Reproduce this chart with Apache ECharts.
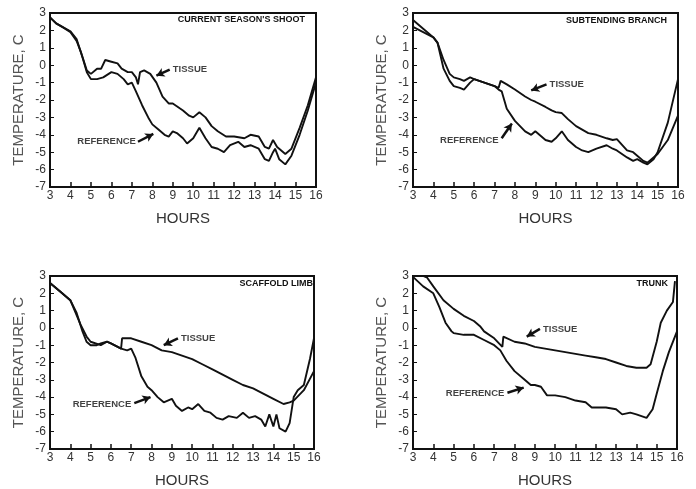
<!DOCTYPE html>
<html><head><meta charset="utf-8">
<script src="https://cdn.jsdelivr.net/npm/echarts@6/dist/echarts.min.js"></script>
<style>html,body{margin:0;padding:0;background:#fff}#c{width:696px;height:489px}</style>
</head><body><div id="c"></div>
<script>
// ---- data (hours, temperature C) ----
const panelTitles = ["CURRENT SEASON'S SHOOT", "SUBTENDING BRANCH", "SCAFFOLD LIMB", "TRUNK"];
const xTicks = [3,4,5,6,7,8,9,10,11,12,13,14,15,16];
const yTicks = [-7,-6,-5,-4,-3,-2,-1,0,1,2,3];

const shootReference = [[3,2.75],[3.3,2.4],[3.6,2.2],[4,1.95],[4.3,1.5],[4.6,0.4],[4.8,-0.4],[5,-0.8],[5.3,-0.8],[5.6,-0.7],[6,-0.4],[6.3,-0.5],[6.6,-0.8],[6.8,-1.1],[7,-1.0],[7.2,-1.5],[7.5,-2.3],[7.8,-3.0],[8,-3.4],[8.3,-3.7],[8.6,-4.0],[8.8,-4.1],[9,-3.8],[9.2,-3.9],[9.5,-4.2],[9.7,-4.5],[10,-4.2],[10.3,-3.6],[10.6,-4.2],[10.9,-4.7],[11.2,-4.8],[11.5,-5.0],[11.8,-4.6],[12.2,-4.4],[12.5,-4.7],[12.8,-4.6],[13.2,-4.8],[13.5,-5.4],[13.7,-5.5],[13.9,-5.0],[14.0,-4.8],[14.2,-5.4],[14.5,-5.7],[14.8,-5.2],[15.2,-4.0],[15.6,-2.6],[16,-1.0]];
const shootTissue = [[3,2.75],[3.3,2.4],[3.6,2.2],[4,1.9],[4.3,1.4],[4.5,0.8],[4.8,-0.3],[5,-0.5],[5.3,-0.2],[5.5,-0.2],[5.7,0.3],[6,0.2],[6.3,0.1],[6.5,-0.2],[6.8,-0.4],[7,-0.4],[7.2,-0.7],[7.3,-1.1],[7.4,-0.4],[7.6,-0.3],[7.9,-0.5],[8.2,-1.0],[8.5,-1.8],[8.8,-2.2],[9,-2.2],[9.5,-2.6],[9.8,-2.9],[10,-3.0],[10.3,-2.7],[10.6,-3.0],[10.9,-3.5],[11.2,-3.8],[11.6,-4.1],[12,-4.1],[12.5,-4.2],[12.8,-4.0],[13.2,-4.1],[13.5,-4.7],[13.7,-4.8],[13.9,-4.3],[14.1,-4.7],[14.5,-5.1],[14.8,-4.8],[15.2,-3.6],[15.6,-2.3],[16,-0.7]];

const branchReference = [[3,2.6],[3.5,2.1],[4,1.6],[4.2,1.3],[4.5,-0.2],[4.8,-0.9],[5,-1.2],[5.3,-1.3],[5.5,-1.4],[5.8,-1.0],[6,-0.8],[6.5,-1.0],[7,-1.2],[7.2,-1.4],[7.35,-1.5],[7.6,-2.5],[8,-3.2],[8.5,-3.8],[8.8,-4.0],[9,-3.8],[9.5,-4.3],[9.8,-4.4],[10,-4.2],[10.3,-3.8],[10.6,-4.3],[11,-4.7],[11.3,-4.9],[11.6,-5.0],[12,-4.8],[12.5,-4.6],[12.8,-4.8],[13,-4.9],[13.5,-5.3],[13.8,-5.5],[14,-5.4],[14.3,-5.6],[14.5,-5.7],[14.8,-5.4],[15,-5.0],[15.5,-3.3],[16,-0.8]];
const branchTissue = [[3,2.2],[3.5,1.9],[4,1.6],[4.2,1.3],[4.5,0.3],[4.8,-0.5],[5,-0.7],[5.3,-0.8],[5.5,-0.9],[5.8,-0.7],[6,-0.8],[6.5,-1.0],[7,-1.2],[7.2,-1.3],[7.3,-0.9],[7.6,-1.1],[8,-1.4],[8.5,-1.8],[8.8,-2.0],[9,-2.1],[9.5,-2.4],[9.8,-2.6],[10,-2.7],[10.3,-2.75],[10.6,-3.1],[11,-3.5],[11.3,-3.7],[11.6,-3.9],[12,-4.0],[12.5,-4.2],[12.8,-4.3],[13,-4.25],[13.5,-4.9],[13.8,-5.0],[14,-5.2],[14.3,-5.5],[14.5,-5.6],[14.8,-5.3],[15,-5.1],[15.5,-4.3],[16,-2.9]];

const limbReference = [[3,2.6],[3.5,2.1],[4,1.6],[4.3,0.9],[4.6,-0.2],[4.8,-0.8],[5,-1.0],[5.3,-1.0],[5.5,-0.9],[5.8,-0.8],[6,-0.9],[6.5,-1.2],[6.8,-1.3],[7,-1.2],[7.2,-1.7],[7.5,-2.8],[7.8,-3.4],[8,-3.6],[8.3,-4.0],[8.6,-4.3],[9,-4.1],[9.2,-4.5],[9.5,-4.8],[9.8,-4.6],[10,-4.7],[10.3,-4.4],[10.6,-4.8],[10.9,-4.9],[11.2,-5.2],[11.5,-5.3],[11.8,-5.1],[12.2,-5.2],[12.5,-4.9],[12.8,-5.2],[13.1,-5.1],[13.4,-5.3],[13.6,-5.7],[13.8,-5.0],[14,-5.7],[14.15,-5.0],[14.3,-5.8],[14.6,-6.0],[14.8,-5.5],[15,-4.0],[15.2,-3.6],[15.5,-3.3],[15.8,-1.8],[16,-0.6]];
const limbTissue = [[3,2.6],[3.5,2.1],[4,1.6],[4.5,0.2],[4.8,-0.5],[5,-0.8],[5.5,-1.0],[5.8,-0.8],[6,-0.9],[6.5,-1.2],[6.55,-0.6],[7,-0.6],[7.5,-0.8],[8,-1.0],[8.5,-1.3],[9,-1.4],[9.5,-1.6],[10,-1.8],[10.5,-2.1],[11,-2.4],[11.5,-2.7],[12,-3.0],[12.5,-3.3],[13,-3.5],[13.5,-3.8],[14,-4.1],[14.5,-4.4],[14.8,-4.3],[15,-4.2],[15.5,-3.6],[16,-2.5]];

const trunkReference = [[3,2.95],[3.5,2.4],[4,2.0],[4.3,1.2],[4.6,0.3],[4.9,-0.2],[5,-0.3],[5.5,-0.4],[6,-0.4],[6.5,-0.7],[7,-1.0],[7.3,-1.3],[7.6,-1.9],[8,-2.5],[8.5,-3.0],[8.8,-3.3],[9,-3.3],[9.3,-3.4],[9.6,-3.9],[10,-3.9],[10.5,-4.0],[11,-4.2],[11.5,-4.3],[11.8,-4.6],[12.5,-4.6],[13,-4.7],[13.3,-5.0],[13.7,-4.9],[14,-5.0],[14.5,-5.2],[14.8,-4.7],[15,-3.8],[15.3,-2.5],[15.6,-1.4],[16,-0.2]];
const trunkTissue = [[3,3.0],[3.5,3.0],[3.7,2.9],[4,2.4],[4.5,1.6],[5,1.1],[5.5,0.7],[6,0.4],[6.3,0.1],[6.5,-0.2],[7,-0.6],[7.4,-1.1],[7.45,-0.5],[8,-0.8],[8.5,-0.9],[9,-1.1],[9.5,-1.2],[10,-1.3],[10.5,-1.4],[11,-1.5],[11.5,-1.6],[12,-1.7],[12.5,-1.8],[13,-2.0],[13.5,-2.2],[14,-2.3],[14.5,-2.3],[14.7,-2.1],[15,-0.8],[15.2,0.3],[15.5,1.0],[15.8,1.5],[15.9,2.7]];

const referenceSeries = [shootReference, branchReference, limbReference, trunkReference];
const tissueSeries = [shootTissue, branchTissue, limbTissue, trunkTissue];

// annotation anchors in data units
const tissueLabelAt = [[9.0,-0.22],[9.7,-1.1],[9.45,-0.6],[9.4,-0.06]];
const tissueArrows = [[[8.85,-0.25],[8.2,-0.6]],[[9.55,-1.1],[8.8,-1.45]],[[9.3,-0.6],[8.6,-1.0]],[[9.25,-0.06],[8.6,-0.5]]];
const referenceLabelAt = [[7.2,-4.4],[7.2,-4.3],[7.0,-4.4],[7.5,-3.8]];
const referenceArrows = [[[7.3,-4.4],[8.05,-3.95]],[[7.35,-4.2],[7.85,-3.35]],[[7.15,-4.35],[7.95,-4.0]],[[7.65,-3.75],[8.45,-3.45]]];

// ---- layout ----
const grids = [
  {left:50, top:13, width:266, height:174},
  {left:413, top:13, width:265, height:174},
  {left:50, top:276, width:264, height:174},
  {left:413, top:276, width:264, height:175}
];
const titleRight = [391, 29, 383, 28];
const titleTop = [15, 16, 279, 279];

const fontFam = "'Liberation Sans', Arial, sans-serif";
const option = {
  animation:false,
  backgroundColor:'#fff',
  title: panelTitles.map((t,i)=>({text:t, right:titleRight[i], top:titleTop[i], padding:0,
    textStyle:{fontSize:9, fontWeight:'bold', fontFamily:fontFam, color:'#111'}})),
  grid: grids.map(g=>Object.assign({show:true, borderColor:'#111', borderWidth:2, backgroundColor:'transparent'}, g)),
  xAxis: grids.map((g,i)=>({type:'value', gridIndex:i, min:3, max:16, interval:1,
    name:'HOURS', nameLocation:'middle', nameGap:24,
    nameTextStyle:{fontSize:15, fontFamily:fontFam, color:'#333'},
    axisLine:{show:true, onZero:false, lineStyle:{color:'#111', width:2}},
    axisTick:{show:true, inside:true, length:5, lineStyle:{color:'#111', width:1.5}},
    axisLabel:{fontSize:12, fontFamily:fontFam, color:'#333', margin:3},
    splitLine:{show:false}})),
  yAxis: grids.map((g,i)=>({type:'value', gridIndex:i, min:-7, max:3, interval:1,
    name:'TEMPERATURE, C', nameLocation:'middle', nameGap:24,
    nameTextStyle:{fontSize:15, fontFamily:fontFam, color:'#555'},
    axisLine:{show:true, onZero:false, lineStyle:{color:'#111', width:2}},
    axisTick:{show:true, inside:true, length:4, lineStyle:{color:'#111', width:1}},
    axisLabel:{fontSize:12, fontFamily:fontFam, color:'#333', margin:4},
    splitLine:{show:false}})),
  series: []
};

const annLabel = {fontSize:9.5, fontWeight:'bold', fontFamily:fontFam, color:'#111'};
for (let i=0;i<4;i++){
  option.series.push({type:'line', xAxisIndex:i, yAxisIndex:i, data:referenceSeries[i], showSymbol:false,
    lineStyle:{color:'#111', width:1.9}, z:3,
    markLine:{silent:true, symbol:['none','arrow'], symbolSize:[7,8],
      lineStyle:{color:'#111', width:2.5, type:'solid', curveness:-0.25}, label:{show:false},
      data:[[{coord:referenceArrows[i][0]},{coord:referenceArrows[i][1]}]]}});
  option.series.push({type:'line', xAxisIndex:i, yAxisIndex:i, data:tissueSeries[i], showSymbol:false,
    lineStyle:{color:'#111', width:1.9}, z:3,
    markLine:{silent:true, symbol:['none','arrow'], symbolSize:[7,8],
      lineStyle:{color:'#111', width:2.5, type:'solid', curveness:0.25}, label:{show:false},
      data:[[{coord:tissueArrows[i][0]},{coord:tissueArrows[i][1]}]]}});
  option.series.push({type:'scatter', xAxisIndex:i, yAxisIndex:i, symbolSize:0, silent:true,
    data:[{value:tissueLabelAt[i], label:{show:true, formatter:'TISSUE', position:'right', distance:0}},
          {value:referenceLabelAt[i], label:{show:true, formatter:'REFERENCE', position:'left', distance:0}}],
    label:annLabel});
}
const chart = echarts.init(document.getElementById('c'), null, {renderer:'canvas'});
chart.setOption(option);
</script></body></html>
